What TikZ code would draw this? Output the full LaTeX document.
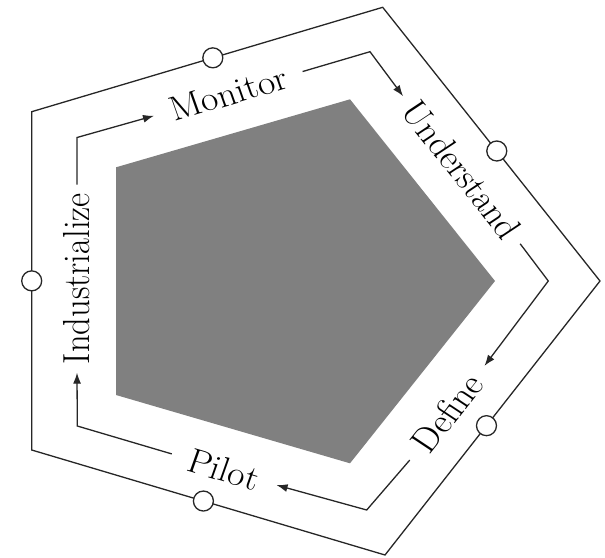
\documentclass[tikz,border=0pt]{standalone}
\usepackage{fontspec}
\usetikzlibrary{arrows.meta,calc}
\tikzset{
  ln/.style={line width=1.3pt, draw=black!85},
  flow/.style={ln, -{Latex[length=11pt,width=8pt]}},
  lab/.style={font=\fontsize{34.5}{40}\selectfont, inner ysep=0pt, xscale=1.092},
  ring/.style={circle, draw=black!85, line width=1.3pt, fill=white, minimum size=20pt, inner sep=0pt},
}
\begin{document}
\begin{tikzpicture}[x=1pt,y=-1pt]
\useasboundingbox (0,0) rectangle (605,557);
% outer pentagon corners
\coordinate (o1) at (31.7,111.7);
\coordinate (o2) at (382.7,7.3);
\coordinate (o3) at (600,281);
\coordinate (o4) at (385,555);
\coordinate (o5) at (31.7,450);
% flow corners
\coordinate (a1) at (77,137.5);
\coordinate (a2) at (370,51.7);
\coordinate (a3) at (548.3,281);
\coordinate (a4) at (366.7,510);
\coordinate (a5) at (77.3,426);
% gray core
\fill[gray] (116,167.3) -- (350,99.3) -- (495,281) -- (350,463.3) -- (116,395) -- cycle;
% outer ring
\draw[ln, line join=miter] (o1) -- (o2) -- (o3) -- (o4) -- (o5) -- cycle;
\node[ring] (r1) at ($(o1)!0.516!(o2)$) {};
\node[ring] (r2) at ($(o2)!0.525!(o3)$) {};
\node[ring] (r3) at ($(o3)!0.528!(o4)$) {};
\node[ring] (r4) at ($(o4)!0.514!(o5)$) {};
\node[ring] (r5) at ($(o5)!0.5!(o1)$) {};
% labels
\node[lab, rotate=18, inner xsep=15.5pt] (mon) at (228.3,93.65) {Monitor};
\node[lab, rotate=-54, inner xsep=10.5pt] (und) at (461.65,170) {Understand};
\node[lab, rotate=54, inner xsep=14.4pt] (def) at (447.1,413) {Define};
\node[lab, rotate=-18, inner xsep=16.8pt] (pil) at (224.15,469.5) {Pilot};
\node[lab, rotate=90, inner xsep=8.4pt] (ind) at (77,278.7) {Industrialize};
% flow
\draw[flow] (ind.east) -- (a1) -- (mon.west);
\draw[flow] (mon.east) -- (a2) -- (und.west);
\draw[flow] (und.east) -- (a3) -- (def.east);
\draw[flow] (def.west) -- (a4) -- (pil.east);
\draw[flow] (pil.west) -- (a5) -- (ind.west);
\end{tikzpicture}
\end{document}
